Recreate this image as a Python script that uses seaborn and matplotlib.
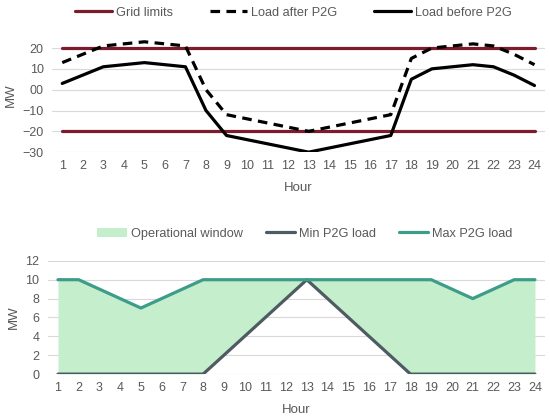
import matplotlib
matplotlib.use("Agg")
import matplotlib.pyplot as plt
import seaborn as sns
import pandas as pd

# Hourly data
hours = list(range(1, 25))
load_before = [3, 7, 11, 12, 13, 12, 11, -10, -22, -24, -26, -28,
               -30, -28, -26, -24, -22, 5, 10, 11, 12, 11, 7, 2]
load_after = [13, 17, 21, 22, 23, 22, 21, 0, -12, -14, -16, -18,
              -20, -18, -16, -14, -12, 15, 20, 21, 22, 21, 17, 12]
grid_upper = [20] * 24
grid_lower = [-20] * 24
min_p2g = [0, 0, 0, 0, 0, 0, 0, 0, 2, 4, 6, 8,
           10, 8, 6, 4, 2, 0, 0, 0, 0, 0, 0, 0]
max_p2g = [10, 10, 9, 8, 7, 8, 9, 10, 10, 10, 10, 10,
           10, 10, 10, 10, 10, 10, 10, 9, 8, 9, 10, 10]
top_yticks = [-30, -20, -10, 0, 10, 20]
top_ylabels = ["\u221230", "\u221220", "\u221210", "00", "10", "20"]
bottom_yticks = [0, 2, 4, 6, 8, 10, 12]

sns.set_theme(style="white")
plt.rcParams["font.family"] = ["Liberation Sans", "DejaVu Sans"]

text_col = "#595959"
grid_col = "#d9d9d9"
red = "#7b1c2c"
teal = "#3d9c8a"
slate = "#4f5b62"
fill_col = "#c5efcc"

df = pd.DataFrame({"Hour": hours, "before": load_before, "after": load_after,
                   "up": grid_upper, "low": grid_lower,
                   "min": min_p2g, "max": max_p2g})

fig = plt.figure(figsize=(5.5, 4.18), dpi=100)

# Top chart: load before/after P2G
ax1 = fig.add_axes([0.0945, 0.636, 0.896, 0.274])
sns.lineplot(data=df, x="Hour", y="up", ax=ax1, color=red, lw=2.3, label="Grid limits")
sns.lineplot(data=df, x="Hour", y="low", ax=ax1, color=red, lw=2.3)
sns.lineplot(data=df, x="Hour", y="after", ax=ax1, color="black", lw=2.3,
             linestyle=(0, (3, 2)), label="Load after P2G")
sns.lineplot(data=df, x="Hour", y="before", ax=ax1, color="black", lw=2.3,
             label="Load before P2G")
ax1.set_xlim(0.5, 24.5)
ax1.set_ylim(-30, 25)
ax1.set_yticks(top_yticks)
ax1.set_yticklabels(top_ylabels)
ax1.set_xticks(hours)

# Bottom chart: P2G operational window
ax2 = fig.add_axes([0.0865, 0.105, 0.905, 0.271])
ax2.fill_between(df["Hour"], df["min"], df["max"], color=fill_col, lw=0,
                 label="Operational window")
sns.lineplot(data=df, x="Hour", y="min", ax=ax2, color=slate, lw=2.3, label="Min P2G load")
sns.lineplot(data=df, x="Hour", y="max", ax=ax2, color=teal, lw=2.3, label="Max P2G load")
ax2.set_xlim(0.5, 24.5)
ax2.set_ylim(0, 12)
ax2.set_yticks(bottom_yticks)
ax2.set_xticks(hours)

for ax in (ax1, ax2):
    for s in ax.spines.values():
        s.set_visible(False)
    ax.grid(axis="y", color=grid_col, lw=0.8)
    ax.set_axisbelow(True)
    ax.tick_params(axis="both", length=0, labelsize=9, colors=text_col, pad=6)
    ax.set_xlabel("Hour", fontsize=9.5, color=text_col, labelpad=7)
    ax.set_ylabel("MW", fontsize=9.5, color=text_col, labelpad=4)

leg1 = ax1.legend(loc="lower center", bbox_to_anchor=(0.49, 1.12), ncol=3, frameon=False,
                  fontsize=9.2, handlelength=2.9, handletextpad=0.3, columnspacing=2.9,
                  borderaxespad=0)
leg2 = ax2.legend(loc="lower center", bbox_to_anchor=(0.517, 1.14), ncol=3, frameon=False,
                  fontsize=9.2, handlelength=2.3, handletextpad=0.3, columnspacing=1.8,
                  borderaxespad=0)
for leg in (leg1, leg2):
    for t in leg.get_texts():
        t.set_color(text_col)

fig.savefig("out.png", dpi=100)
